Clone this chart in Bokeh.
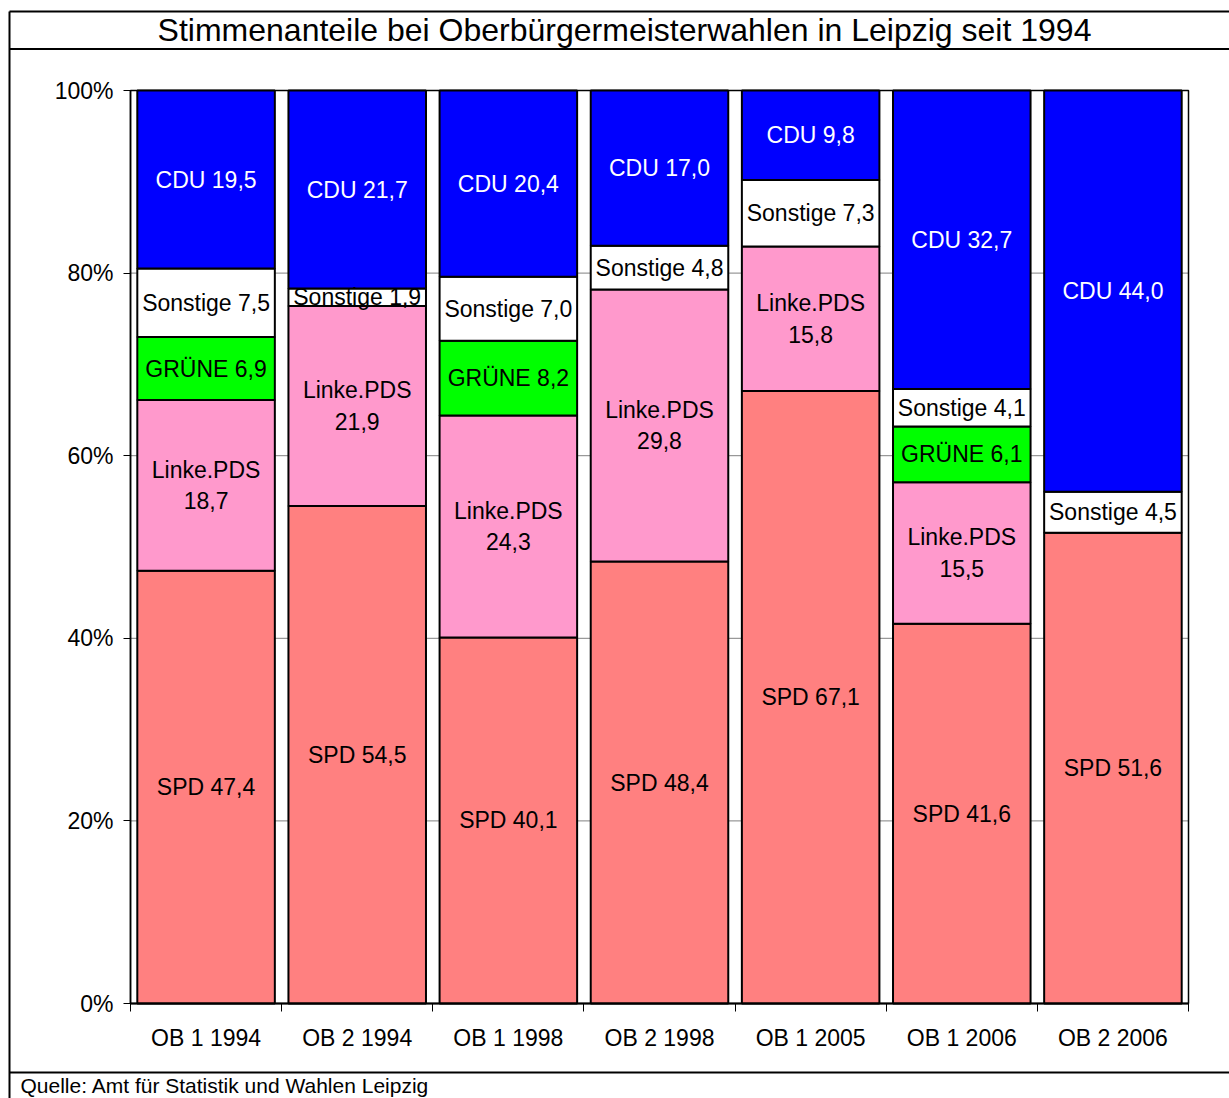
from bokeh.plotting import figure
from bokeh.models import Range1d, LinearAxis, FixedTicker, PrintfTickFormatter, CustomJSTickFormatter, ColumnDataSource
from bokeh.core.properties import value
from bokeh.embed import file_html
from bokeh.resources import INLINE

# ---------------- data ----------------
title_text = "Stimmenanteile bei Oberbürgermeisterwahlen in Leipzig seit 1994"
source_text = "Quelle: Amt für Statistik und Wahlen Leipzig"
categories = ["OB 1 1994", "OB 2 1994", "OB 1 1998", "OB 2 1998", "OB 1 2005", "OB 1 2006", "OB 2 2006"]
parties = ["SPD", "Linke.PDS", "GRÜNE", "Sonstige", "CDU"]
spd = [47.4, 54.5, 40.1, 48.4, 67.1, 41.6, 51.6]
linke = [18.7, 21.9, 24.3, 29.8, 15.8, 15.5, 0.0]
gruene = [6.9, 0.0, 8.2, 0.0, 0.0, 6.1, 0.0]
sonstige = [7.5, 1.9, 7.0, 4.8, 7.3, 4.1, 4.5]
cdu = [19.5, 21.7, 20.4, 17.0, 9.8, 32.7, 44.0]
series = [spd, linke, gruene, sonstige, cdu]
colors = ["#FF8080", "#FF99CC", "#00FF00", "#FFFFFF", "#0000FF"]
label_colors = ["black", "black", "black", "black", "white"]
y_ticks = [0, 20, 40, 60, 80, 100]

# ---------------- layout (pixels on the canvas) ----------------
W, H = 1229, 1098
PX_L, PX_R, PX_T, PX_B = 130, 1188, 90, 1003
n = len(categories)
xs = (PX_R - PX_L) / n
ys = (PX_B - PX_T) / 100.0
x_start = -0.5 - PX_L / xs
x_end = n - 0.5 + (W - PX_R) / xs
y_start = -(H - PX_B) / ys
y_end = 100 + PX_T / ys

FONT_NAME = "Liberation Sans"
FONT = value(FONT_NAME)

p = figure(width=W, height=H, x_range=Range1d(x_start, x_end), y_range=Range1d(y_start, y_end),
           x_axis_type=None, y_axis_type=None, toolbar_location=None, output_backend="svg",
           min_border=0, outline_line_color=None, background_fill_color="white",
           border_fill_color="white")
p.extra_x_ranges = {"px": Range1d(0, W)}
p.extra_y_ranges = {"px": Range1d(H, 0)}

# gridlines
grid_y = [t for t in y_ticks if 0 < t < 100]
p.segment(x0=[-0.5] * len(grid_y), x1=[n - 0.5] * len(grid_y), y0=grid_y, y1=grid_y,
          line_color="#808080", line_width=1)
# plot area border
p.quad(left=[-0.5], right=[n - 0.5], bottom=[0], top=[100], fill_color=None,
       line_color="black", line_width=1.5)

# stacked 100% bars
totals = [sum(s[i] for s in series) for i in range(n)]
cum = [0.0] * n
lab_x, lab_y, lab_t, lab_c = [], [], [], []
for party, vals, col, lc in zip(parties, series, colors, label_colors):
    bx, bb, bt = [], [], []
    for i in range(n):
        v = vals[i]
        if v <= 0:
            continue
        pct = v / totals[i] * 100
        b, t = cum[i], cum[i] + pct
        cum[i] = t
        bx.append(i); bb.append(b); bt.append(t)
        txt = f"{v:.1f}".replace(".", ",")
        lab_x.append(i)
        lab_y.append((b + t) / 2)
        lab_t.append(f"{party}\n{txt}" if party == "Linke.PDS" else f"{party} {txt}")
        lab_c.append(lc)
    p.vbar(x=bx, bottom=bb, top=bt, width=0.91, fill_color=col, line_color="black", line_width=2)

lsrc = ColumnDataSource(dict(x=lab_x, y=lab_y, text=lab_t, color=lab_c))
p.text(x="x", y="y", text="text", source=lsrc, text_color="color", text_font=FONT,
       text_font_size="23px", text_align="center", text_baseline="middle", text_line_height=1.22)

# axes
yaxis = LinearAxis(fixed_location=-0.5, bounds=(0, 100), ticker=FixedTicker(ticks=y_ticks),
                   formatter=PrintfTickFormatter(format="%d%%"))
yaxis.major_tick_out = 7
yaxis.major_tick_in = 0
yaxis.minor_tick_out = 0
yaxis.minor_tick_in = 0
yaxis.axis_line_color = "black"
yaxis.axis_line_width = 1.5
yaxis.major_tick_line_width = 1
yaxis.major_label_standoff = 10
yaxis.major_label_text_font = FONT_NAME
yaxis.major_label_text_font_size = "23px"
yaxis.major_label_text_color = "black"
p.add_layout(yaxis, "left")

xaxis_ticks = LinearAxis(fixed_location=0, bounds=(-0.5, n - 0.5),
                         ticker=FixedTicker(ticks=[i - 0.5 for i in range(n + 1)]),
                         formatter=CustomJSTickFormatter(code="return ''"))
xaxis_ticks.major_tick_out = 8
xaxis_ticks.major_tick_in = 0
xaxis_ticks.minor_tick_out = 0
xaxis_ticks.minor_tick_in = 0
xaxis_ticks.axis_line_color = "black"
xaxis_ticks.axis_line_width = 2
xaxis_ticks.major_label_text_font_size = "1px"
p.add_layout(xaxis_ticks, "below")

xaxis_lab = LinearAxis(fixed_location=0, bounds=(-0.5, n - 0.5),
                       ticker=FixedTicker(ticks=list(range(n))),
                       major_label_overrides={i: c for i, c in enumerate(categories)})
xaxis_lab.major_tick_out = 0
xaxis_lab.major_tick_in = 0
xaxis_lab.minor_tick_out = 0
xaxis_lab.minor_tick_in = 0
xaxis_lab.axis_line_color = None
xaxis_lab.major_label_standoff = 21
xaxis_lab.major_label_text_font = FONT_NAME
xaxis_lab.major_label_text_font_size = "23px"
xaxis_lab.major_label_text_color = "black"
p.add_layout(xaxis_lab, "below")

# outer frame, title and source (canvas pixel space)
p.segment(x0=[9, 9, 9, 9], y0=[11, 48.5, 1072, 11], x1=[W, W, W, 9], y1=[11, 48.5, 1072, H],
          x_range_name="px", y_range_name="px", line_color="black", line_width=2)
p.text(x=[624], y=[29], text=[title_text], x_range_name="px", y_range_name="px",
       text_font=FONT, text_font_size="32px", text_align="center", text_baseline="middle",
       text_color="black")
p.text(x=[20], y=[1085], text=[source_text], x_range_name="px", y_range_name="px",
       text_font=FONT, text_font_size="21px", text_align="left", text_baseline="middle",
       text_color="black")

open("out.html", "w").write(file_html(p, INLINE))
